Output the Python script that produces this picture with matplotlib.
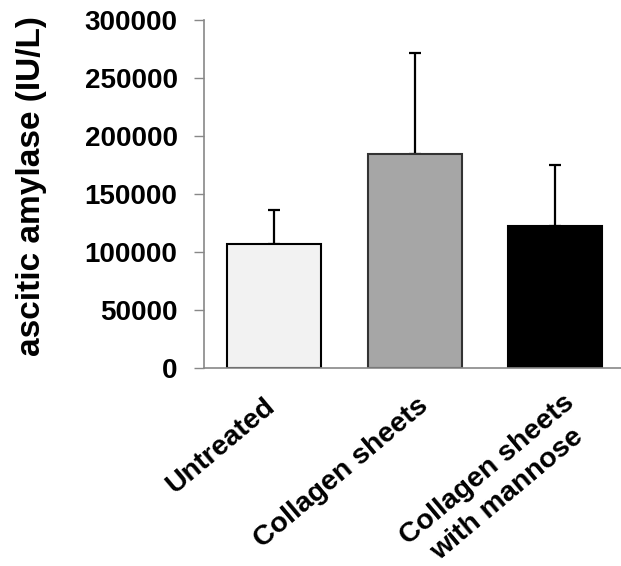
import matplotlib.pyplot as plt
from matplotlib.transforms import ScaledTranslation

plt.rcParams['font.family'] = ['Liberation Sans', 'DejaVu Sans']
plt.rcParams['font.weight'] = 'bold'

groups = ['Untreated', 'Collagen sheets', 'Collagen sheets\nwith mannose']
means = [107000, 184300, 122300]
err_up = [29600, 87500, 52500]
fills = ['#f2f2f2', '#a6a6a6', '#000000']
edges = ['#000000', '#333333', '#000000']

fig = plt.figure(figsize=(6.21, 5.66), dpi=100)
ax = fig.add_axes([0.3285, 0.3498, 0.6715, 0.6149])

x = list(range(len(groups)))
ax.bar(x, means, width=0.67, color=fills, edgecolor=edges, linewidth=1.5, zorder=2)
ax.errorbar(x, means, yerr=[[0] * 3, err_up], fmt='none', ecolor='black',
            elinewidth=1.6, capsize=4.5, capthick=1.6, zorder=1)

ax.set_xlim(-0.5, 2.47)
ax.set_ylim(0, 300000)
ax.set_yticks(range(0, 300001, 50000))
ax.tick_params(axis='y', length=7, width=1, color='#888888', labelsize=20, pad=12)
ax.tick_params(axis='x', length=0)
for s in ['top', 'right']:
    ax.spines[s].set_visible(False)
for s in ['left', 'bottom']:
    ax.spines[s].set_color('#888888')
    ax.spines[s].set_linewidth(1.2)

ax.set_xticks(x)
labels = ax.set_xticklabels(groups, rotation=40, ha='right', va='center',
                            rotation_mode='anchor', fontsize=20.5,
                            multialignment='center', linespacing=1.3)
ax.tick_params(axis='x', pad=25)
shifts = [(-3, 0), (10, 0), (26, -9)]
for lab, (dx, dy) in zip(labels, shifts):
    lab.set_transform(lab.get_transform()
                      + ScaledTranslation(dx / 100, dy / 100, fig.dpi_scale_trans))

fig.text(40 / 621, 0.6714, 'ascitic amylase (IU/L)', rotation=90, fontsize=24,
         fontweight='bold', ha='center', va='baseline', rotation_mode='anchor')

fig.savefig('out.png', dpi=100)
